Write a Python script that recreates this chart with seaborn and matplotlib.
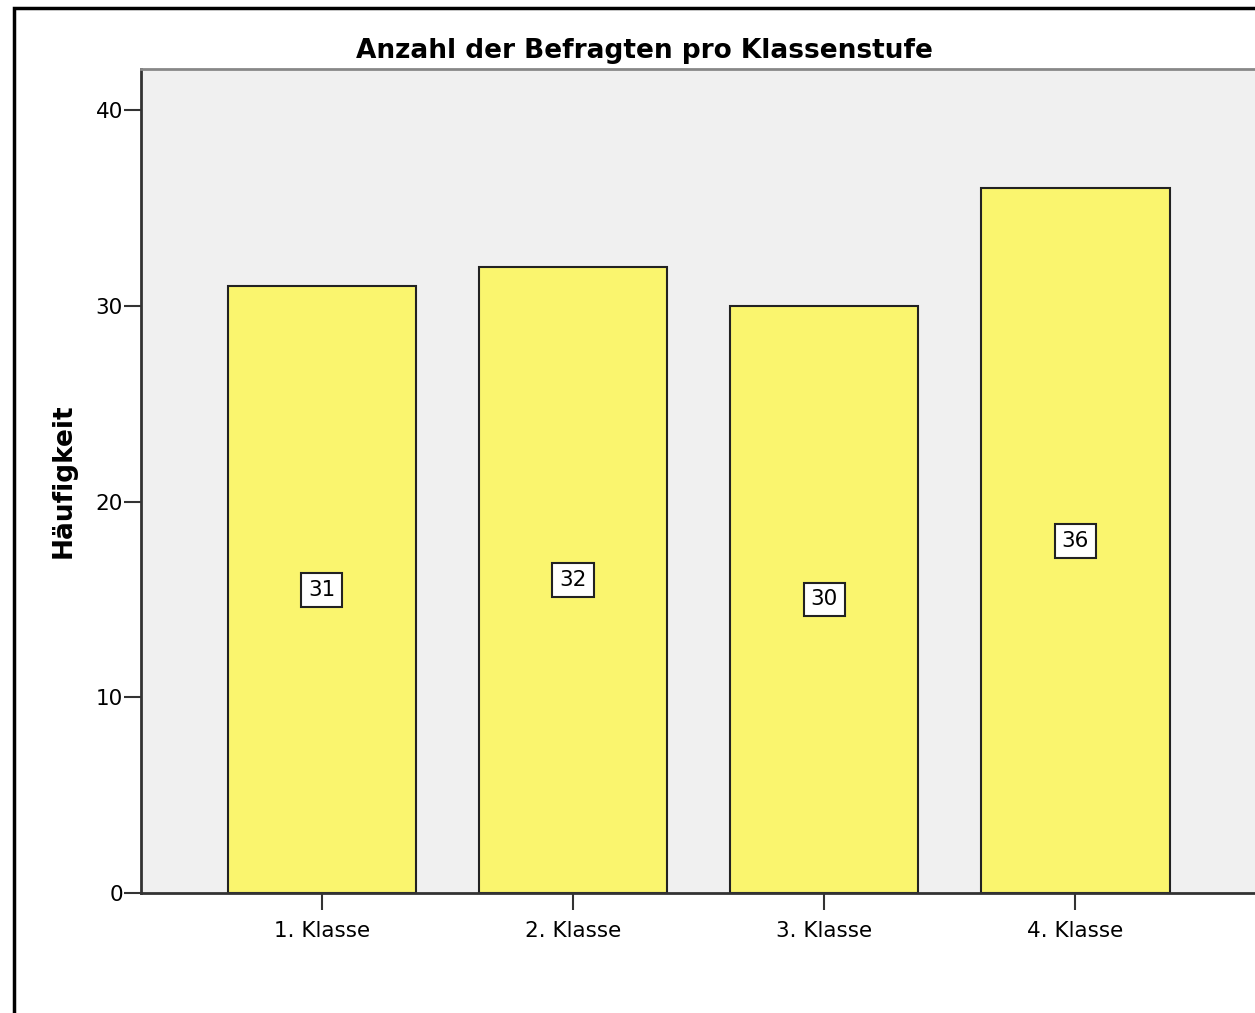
import matplotlib
matplotlib.use("Agg")
import matplotlib.pyplot as plt
import matplotlib.patches as mpatches
import pandas as pd
import seaborn as sns

# values
klassen = ["1. Klasse", "2. Klasse", "3. Klasse", "4. Klasse"]
anzahl = [31, 32, 30, 36]
y_ticks = [0, 10, 20, 30, 40]

df = pd.DataFrame({"Klasse": klassen, "Anzahl": anzahl})

sns.set_style("white")
plt.rcParams["font.family"] = ["DejaVu Sans"]
plt.rcParams["text.color"] = "black"

fig = plt.figure(figsize=(12.55, 10.13), dpi=100)
ax = fig.add_axes([141 / 1255, 1 - 893 / 1013, 1 - 141 / 1255, (893 - 69) / 1013])
ax.set_facecolor("#f0f0f0")

sns.barplot(data=df, x="Klasse", y="Anzahl", color="#faf56e", saturation=1,
            width=0.75, edgecolor="#222222", linewidth=1.5, ax=ax)

# value labels in white boxes at half bar height
for i, v in enumerate(anzahl):
    ax.text(i, v / 2, str(v), ha="center", va="center", fontsize=15.5,
            color="black",
            bbox=dict(boxstyle="square,pad=0.32", fc="white", ec="#222222", lw=1.5))

ax.set_xlim(-0.72, 3.715)
ax.set_ylim(0, 42.1)
ax.set_yticks(y_ticks)
ax.tick_params(axis="both", direction="out", length=12, width=1.5,
               color="#333333", labelsize=15.5, labelcolor="black",
               left=True, bottom=True)
ax.tick_params(axis="y", pad=1)
ax.tick_params(axis="x", pad=8)
ax.set_xlabel("")
ax.set_ylabel("Häufigkeit", fontsize=19, fontweight="bold", color="black")
ax.yaxis.set_label_coords(-0.058, 0.5)

for s in ["left", "bottom"]:
    ax.spines[s].set_color("#333333")
    ax.spines[s].set_linewidth(2)
ax.spines["top"].set_color("#888888")
ax.spines["top"].set_linewidth(2)
ax.spines["right"].set_visible(False)

fig.text(644 / 1255, 1 - 51 / 1013, "Anzahl der Befragten pro Klassenstufe",
         ha="center", va="center", fontsize=19, fontweight="bold", color="black")

# outer frame
fig.patches.append(mpatches.Rectangle((14 / 1255, -0.05), 1.1, 1 - 8 / 1013 + 0.05,
                                      transform=fig.transFigure, fill=False,
                                      ec="black", lw=2.5, clip_on=False))

fig.savefig("out.png", dpi=100)
